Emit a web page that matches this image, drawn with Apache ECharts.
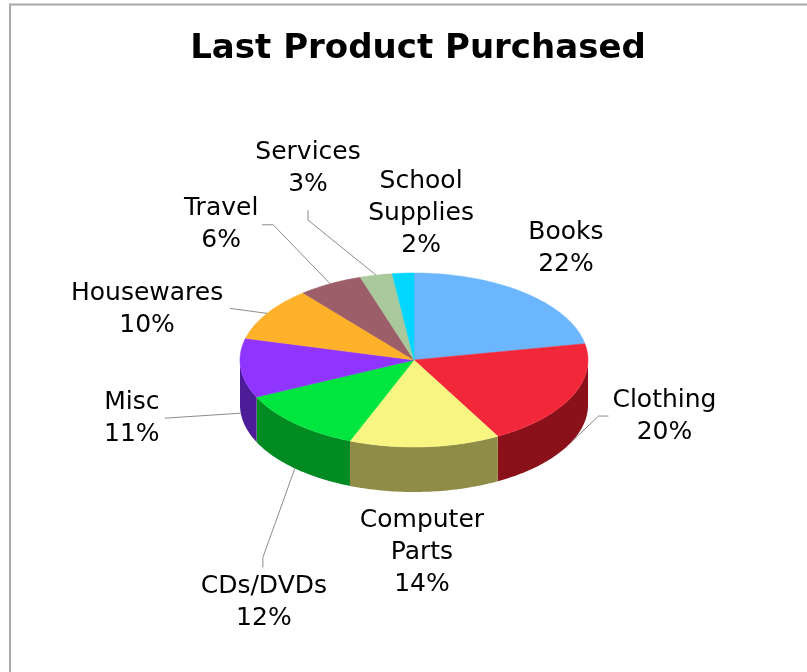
<!DOCTYPE html>
<html>
<head>
<meta charset="utf-8">
<script src="https://cdn.jsdelivr.net/npm/echarts@6/dist/echarts.min.js"></script>
<style>
  html, body { margin: 0; padding: 0; background: #fff; }
  #main { width: 807px; height: 672px; }
</style>
</head>
<body>
<div id="main"></div>
<script>
// ---- data ----
const categories = ['Books', 'Clothing', 'Computer Parts', 'CDs/DVDs', 'Misc', 'Housewares', 'Travel', 'Services', 'School Supplies'];
const values = [22, 20, 14, 12, 11, 10, 6, 3, 2];

// ---- styles ----
const topColors  = ['#6cb6ff', '#f2283a', '#f8f582', '#00e63e', '#8f35ff', '#ffb12a', '#9c5f69', '#a9c89b', '#00d6ff'];
const sideColors = ['#3d6a99', '#8a1019', '#8f8c47', '#008a22', '#4d1d99', '#99691a', '#5e3940', '#65785d', '#00809a'];
// label centre offset relative to the slice's anchor point
const labelOffsets = [[41, -44], [93, -26], [-3, 61], [-31, 134], [-109, 5], [-120, -4], [-109, -59], [-68, -107], [18, -60]];
// leader line bend points relative to anchor (null = no leader)
const leaderBends = [null, [[27, -26], [37, -26]], null, [[-32, 89], [-32, 99]], [[-76, 5]], [[-37, -5]], [[-57, -59], [-68, -59]], [[-68, -55], [-68, -65]], null];

const CX = 414, CY = 360, RX = 174, RY = 87, DEPTH = 45;

const chart = echarts.init(document.getElementById('main'));
const total = values.reduce((a, b) => a + b, 0);

function renderItem(params, api) {
  const i = params.dataIndex;
  let before = 0;
  for (let k = 0; k < i; k++) before += values[k];
  const v = api.value(0);
  const a1 = before / total * Math.PI * 2;
  const a2 = (before + v) / total * Math.PI * 2;
  const pt = (a, dy) => [CX + RX * Math.sin(a), CY - RY * Math.cos(a) + (dy || 0)];
  const arc = (s, e, dy) => {
    const pts = [];
    const n = Math.max(2, Math.ceil(Math.abs(e - s) / (Math.PI / 180)));
    for (let j = 0; j <= n; j++) pts.push(pt(s + (e - s) * j / n, dy));
    return pts;
  };
  const children = [];
  // side face (front half only)
  const s = Math.max(a1, Math.PI / 2), e = Math.min(a2, Math.PI * 1.5);
  if (s < e) {
    const pts = arc(s, e, 0).concat(arc(e, s, DEPTH));
    children.push({ type: 'polygon', shape: { points: pts }, style: { fill: sideColors[i] }, z2: 1 });
  }
  // top face
  const topPts = [[CX, CY]].concat(arc(a1, a2, 0));
  children.push({ type: 'polygon', shape: { points: topPts }, style: { fill: topColors[i], stroke: topColors[i], lineWidth: 0.5 }, z2: 2 });
  // anchor
  const mid = (a1 + a2) / 2;
  const front = Math.cos(mid) < 0;
  const anchor = pt(mid, front ? DEPTH : 0);
  if (leaderBends[i]) {
    const lp = [anchor].concat(leaderBends[i].map(o => [anchor[0] + o[0], anchor[1] + o[1]]));
    children.push({ type: 'polyline', shape: { points: lp }, style: { stroke: '#8c8c8c', lineWidth: 1, fill: null }, z2: 3 });
  }
  const name = categories[i].replace(/ /g, '\n');
  children.push({
    type: 'text', z2: 4,
    style: {
      text: name + '\n' + v + '%',
      x: anchor[0] + labelOffsets[i][0],
      y: anchor[1] + labelOffsets[i][1],
      align: 'center', verticalAlign: 'middle',
      fontFamily: 'DejaVu Sans', fontSize: 25, lineHeight: 32,
      fill: '#000'
    }
  });
  return { type: 'group', children: children };
}

chart.setOption({
  animation: false,
  backgroundColor: '#fff',
  title: {
    text: 'Last Product Purchased',
    left: 413, top: 27, textAlign: 'center',
    textStyle: { fontFamily: 'DejaVu Sans', fontWeight: 'bold', fontSize: 34, color: '#000' }
  },
  graphic: [{
    type: 'rect', silent: true, z: -1,
    shape: { x: 10, y: 4.5, width: 900, height: 800 },
    style: { fill: null, stroke: '#a8a8a8', lineWidth: 2 }
  }],
  series: [{
    type: 'custom',
    coordinateSystem: 'none',
    renderItem: renderItem,
    data: values.map((v, i) => ({ name: categories[i], value: [v] }))
  }]
});
</script>
</body>
</html>
